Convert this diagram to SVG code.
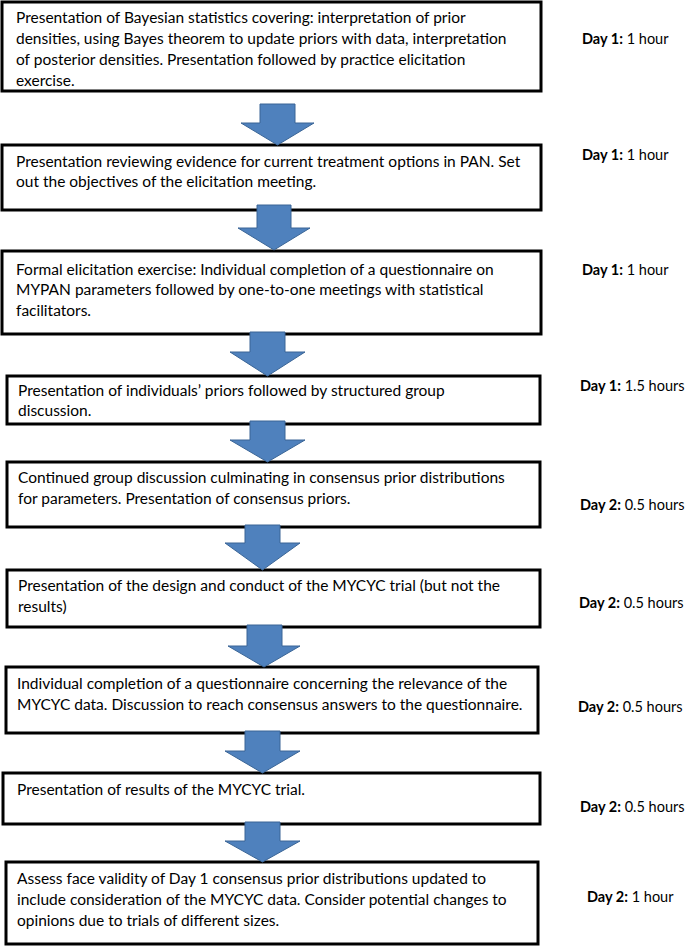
<svg xmlns="http://www.w3.org/2000/svg" width="689" height="946" viewBox="0 0 689 946">
<style>
.box{fill:#fff;stroke:#000;stroke-width:3}
.t{font-family:Lato,"Open Sans","Liberation Sans",sans-serif;font-size:15.5px;fill:#000}
.d{font-family:Lato,"Open Sans","Liberation Sans",sans-serif;font-size:14.5px;fill:#000}
.b{font-weight:bold}
.arr{fill:#4F81BD;stroke:#3A6596;stroke-width:1}
</style>
<rect width="689" height="946" fill="#fff"/>
<g id="n1"><rect class="box" x="2" y="2" width="539" height="89"/>
<text class="t"><tspan x="16" y="23">Presentation of Bayesian statistics covering: interpretation of prior</tspan><tspan x="16" y="44">densities, using Bayes theorem to update priors with data, interpretation</tspan><tspan x="16" y="65">of posterior densities.  Presentation followed by practice elicitation</tspan><tspan x="16" y="86">exercise.</tspan></text>
<text class="d" x="582" y="44"><tspan class="b">Day 1:</tspan> 1 hour</text></g>
<g id="n2"><rect class="box" x="2" y="145" width="539" height="65"/>
<text class="t"><tspan x="16" y="167">Presentation reviewing evidence for current treatment options in PAN. Set</tspan><tspan x="16" y="187">out the objectives of the elicitation meeting.</tspan></text>
<text class="d" x="582" y="160"><tspan class="b">Day 1:</tspan> 1 hour</text></g>
<g id="n3"><rect class="box" x="2" y="251" width="539" height="83"/>
<text class="t"><tspan x="16" y="275">Formal elicitation exercise: Individual completion of a questionnaire on</tspan><tspan x="16" y="295">MYPAN parameters followed by one-to-one meetings with statistical</tspan><tspan x="16" y="316">facilitators.</tspan></text>
<text class="d" x="582" y="275"><tspan class="b">Day 1:</tspan> 1 hour</text></g>
<g id="n4"><rect class="box" x="7" y="376" width="533" height="48"/>
<text class="t"><tspan x="18" y="396">Presentation of individuals’ priors followed by structured group</tspan><tspan x="18" y="416">discussion.</tspan></text>
<text class="d" x="580" y="391"><tspan class="b">Day 1:</tspan> 1.5 hours</text></g>
<g id="n5"><rect class="box" x="7" y="462" width="533" height="65"/>
<text class="t"><tspan x="18" y="483">Continued group discussion culminating in consensus prior distributions</tspan><tspan x="18" y="504">for parameters. Presentation of consensus priors.</tspan></text>
<text class="d" x="580" y="510"><tspan class="b">Day 2:</tspan> 0.5 hours</text></g>
<g id="n6"><rect class="box" x="7" y="570" width="533" height="57"/>
<text class="t"><tspan x="18" y="591">Presentation of the design and conduct of the MYCYC trial (but not the</tspan><tspan x="18" y="612">results)</tspan></text>
<text class="d" x="579" y="608"><tspan class="b">Day 2:</tspan> 0.5 hours</text></g>
<g id="n7"><rect class="box" x="6" y="667" width="532" height="66"/>
<text class="t"><tspan x="17" y="689">Individual completion of a questionnaire concerning the relevance of the</tspan><tspan x="17" y="710">MYCYC data. Discussion to reach consensus answers to the questionnaire.</tspan></text>
<text class="d" x="578" y="712"><tspan class="b">Day 2:</tspan> 0.5 hours</text></g>
<g id="n8"><rect class="box" x="3" y="773" width="537" height="51"/>
<text class="t"><tspan x="17" y="795">Presentation of results of the MYCYC trial.</tspan></text>
<text class="d" x="580" y="812"><tspan class="b">Day 2:</tspan> 0.5 hours</text></g>
<g id="n9"><rect class="box" x="6" y="862" width="532" height="82"/>
<text class="t"><tspan x="17" y="884">Assess face validity of Day 1 consensus prior distributions updated to</tspan><tspan x="17" y="905">include consideration of the MYCYC data. Consider potential changes to</tspan><tspan x="17" y="926">opinions due to trials of different sizes.</tspan></text>
<text class="d" x="587" y="902"><tspan class="b">Day 2:</tspan> 1 hour</text></g>
<g id="connectors">
<polygon class="arr" points="260,104 295,104 295,123 314,123 277.5,145 241,123 260,123"/>
<polygon class="arr" points="257,205 291,205 291,228 310,228 274,250 238,228 257,228"/>
<polygon class="arr" points="250,332 285,332 285,352 305,352 267.5,376 230,352 250,352"/>
<polygon class="arr" points="250,421 285,421 285,440 305,440 267.5,462 230,440 250,440"/>
<polygon class="arr" points="245,525 280,525 280,543 300,543 262.5,570 225,543 245,543"/>
<polygon class="arr" points="247,625 282,625 282,646 300,646 264,667 228,646 247,646"/>
<polygon class="arr" points="245,731 280,731 280,751 300,751 262.5,773 225,751 245,751"/>
<polygon class="arr" points="245,822 280,822 280,841 300,841 262.5,862 225,841 245,841"/>
</g>
</svg>
